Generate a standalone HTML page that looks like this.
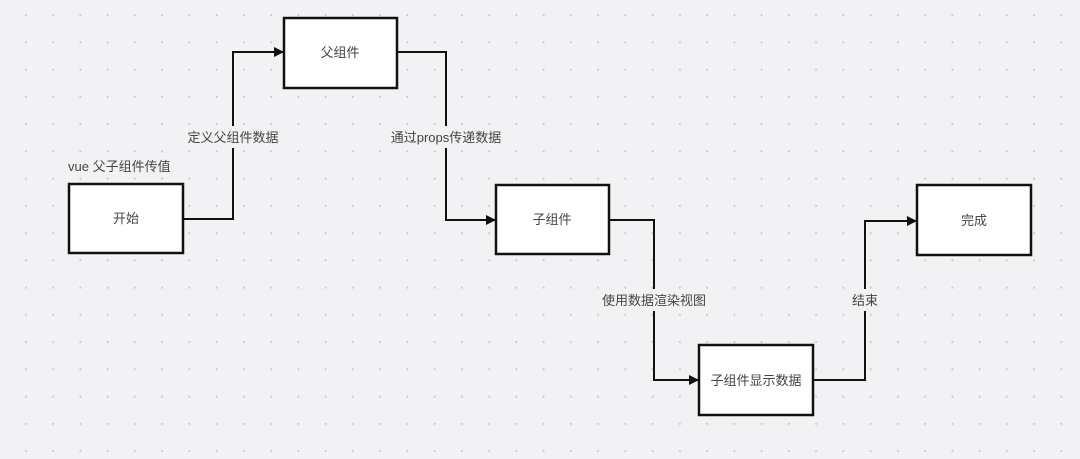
<!DOCTYPE html>
<html><head><meta charset="utf-8"><style>
html,body{margin:0;padding:0;}
body{width:1080px;height:459px;overflow:hidden;background:#f2f2f4;
background-image:radial-gradient(circle,#c4c4c8 0.8px,transparent 1.2px);
background-size:27.25px 27.25px;background-position:39.5px 1.5px;}
</style></head><body>
<svg width="1080" height="459" xmlns="http://www.w3.org/2000/svg" style="position:absolute;left:0;top:0"
 font-family="Liberation Sans, Noto Sans CJK SC, sans-serif" font-size="13" fill="#444">
<defs><marker id="a" markerWidth="10" markerHeight="10" refX="9" refY="5" orient="auto" markerUnits="userSpaceOnUse">
<path d="M0,0 L10,5 L0,10 z" fill="#111"/></marker></defs>
<g fill="none" stroke="#111" stroke-width="2">
<polyline points="184,219 233,219 233,52 283,52" marker-end="url(#a)"/>
<polyline points="398,52 446,52 446,220 495,220" marker-end="url(#a)"/>
<polyline points="610,220 654,220 654,380 698,380" marker-end="url(#a)"/>
<polyline points="814,380 865,380 865,221 916,221" marker-end="url(#a)"/>
</g>
<g fill="#f2f2f4">
<rect x="190" y="126" width="88" height="22"/>
<rect x="392" y="126" width="108" height="22"/>
<rect x="605" y="289" width="98" height="22"/>
<rect x="850" y="289" width="30" height="22"/>
</g>
<g fill="#fff" stroke="#111" stroke-width="2.5">
<rect x="69" y="184" width="114" height="69"/>
<rect x="284" y="18" width="113" height="70"/>
<rect x="496" y="185" width="113" height="69"/>
<rect x="699" y="345" width="114" height="70"/>
<rect x="917" y="185" width="114" height="70"/>
</g>
<g text-anchor="middle">
<text x="126" y="223">开始</text>
<text x="340" y="57">父组件</text>
<text x="552" y="224">子组件</text>
<text x="756" y="385">子组件显示数据</text>
<text x="974" y="225">完成</text>
<text x="233" y="142">定义父组件数据</text>
<text x="446" y="142">通过props传递数据</text>
<text x="654" y="305">使用数据渲染视图</text>
<text x="865" y="305">结束</text>
</g>
<text x="68" y="171">vue 父子组件传值</text>
</svg>
</body></html>
